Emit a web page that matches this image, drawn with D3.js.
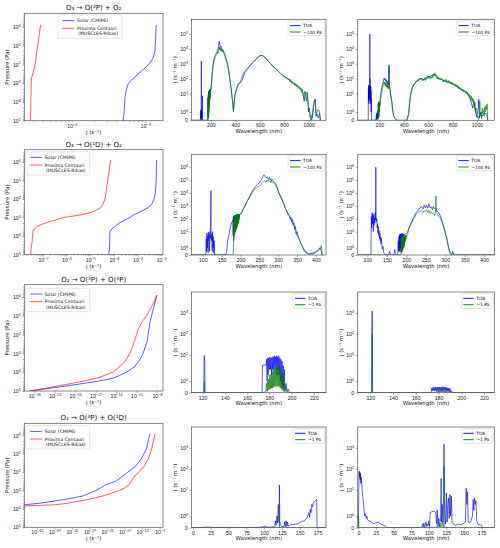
<!DOCTYPE html>
<html>
<head>
<meta charset="utf-8">
<script src="https://cdn.jsdelivr.net/npm/d3@7"></script>
<style>
  body { margin: 0; background: #fff; }
  svg { font-family: "DejaVu Sans", sans-serif; }
</style>
</head>
<body>
<div id="wrapper"></div>
<script>
// ---------- profile data: pressure (Pa) and photolysis rates j (s^-1) ----------
const pressure = [1e5, 7e4, 5e4, 3e4, 2e4, 1e4, 7e3, 6e3, 5e3, 3e3, 2e3, 1e3, 700, 500, 300, 200, 100, 50, 20, 10, 5, 2, 1, 0.8];

const o3pSolarJ = [4.98e-4, 5.02e-4, 5.07e-4, 5.15e-4, 5.19e-4, 5.25e-4, 5.27e-4, 5.28e-4, 5.31e-4, 5.43e-4, 5.56e-4, 5.89e-4, 6.46e-4, 7.1e-4, 8.07e-4, 9.2e-4, 1.12e-3, 1.26e-3, 1.35e-3, 1.36e-3, 1.38e-3, 1.39e-3, 1.40e-3, 1.41e-3];
const o3pProxJ  = [2.75e-5, 2.75e-5, 2.75e-5, 2.76e-5, 2.77e-5, 2.77e-5, 2.78e-5, 2.78e-5, 2.78e-5, 2.79e-5, 2.79e-5, 2.80e-5, 2.81e-5, 2.84e-5, 2.95e-5, 3.03e-5, 3.15e-5, 3.25e-5, 3.33e-5, 3.43e-5, 3.53e-5, 3.63e-5, 3.72e-5, 3.76e-5];

const o1dSolarJ = [6.03e-5, 6.2e-5, 6.46e-5, 6.5e-5, 6.61e-5, 6.67e-5, 6.7e-5, 6.76e-5, 7.2e-5, 1.10e-4, 1.70e-4, 4.79e-4, 7.24e-4, 1.29e-3, 2.69e-3, 3.89e-3, 5.01e-3, 5.56e-3, 5.96e-3, 6.10e-3, 6.17e-3, 6.24e-3, 6.31e-3, 6.34e-3];
const o1dProxJ  = [3.05e-8, 3.1e-8, 3.16e-8, 3.3e-8, 3.47e-8, 3.59e-8, 3.7e-8, 3.8e-8, 3.89e-8, 5.62e-8, 1.26e-7, 7.94e-7, 4.7e-6, 1.26e-5, 2.75e-5, 3.39e-5, 4.17e-5, 4.57e-5, 5.01e-5, 5.5e-5, 5.89e-5, 6.61e-5, 7.08e-5, 7.41e-5];

const o2pSolarJ = [2.3e-27, 3.2e-24, 2.1e-21, 2.5e-17, 5.6e-15, 3.3e-13, 1.5e-12, 2.8e-12, 5.6e-12, 1.6e-11, 3.5e-11, 8.7e-11, 1.3e-10, 1.7e-10, 2.7e-10, 3.9e-10, 5.0e-10, 6.6e-10, 1.0e-9, 1.6e-9, 2.6e-9, 5.0e-9, 7.9e-9, 8.9e-9];
const o2pProxJ  = [2.3e-27, 4.8e-25, 1e-22, 1.4e-19, 2.2e-17, 3.4e-15, 1.2e-14, 2.0e-14, 3.7e-14, 1.5e-13, 3.5e-13, 1.0e-12, 1.6e-12, 2.3e-12, 3.7e-12, 5.4e-12, 1.0e-11, 1.8e-11, 7.4e-11, 2.5e-10, 8.9e-10, 3.2e-9, 7.9e-9, 9.5e-9];

const o2dSolarJ = [1e-70, 1e-65, 1e-62, 1e-60, 1e-58, 1e-54, 3e-49, 1.3e-46, 3e-42, 1.6e-34, 1e-29, 6.3e-26, 2e-24, 2.6e-23, 4.6e-20, 7.9e-19, 7.9e-17, 1e-14, 5e-13, 3.2e-12, 2e-11, 5e-11, 1.26e-10, 1.6e-10];
const o2dProxJ  = [1e-70, 1e-65, 1e-62, 1e-60, 1e-58, 1e-54, 1e-47, 1e-37, 2.8e-34, 8.3e-28, 4.7e-24, 3.8e-19, 1.3e-17, 1.4e-16, 9.5e-16, 3e-15, 1e-13, 2.9e-12, 5e-11, 1.8e-10, 5.9e-10, 1.6e-9, 3.5e-9, 4.5e-9];

// ---------- spectral data: [wavelength nm, j per wavelength (s^-1 m^-1)] ----------
const o3pSolarToa = [[40,0],[114,0],[115,0.6],[116,0.1],[117,1.2],[118,0.3],[119,1.3],[120,0.4],[121,1],[121.6,1500],[122,0.8],[123,0.2],[124,1],[125,0.1],[127,0],[129,0],[130,7],[131,0],[170,0],[174,0],[175,0.5],[176,5],[177,0.5],[178,8],[179,1],[180,10],[181,2],[182,12],[183,2],[184,14],[185,3],[186,15],[187,4],[188,16],[189,5],[190,17],[191,6],[192,18],[193,8],[194,18],[195,10],[196,19],[197,12],[198,20],[200,20],[205,60],[210,200],[215,500],[220,1100],[225,2000],[230,2900],[235,3500],[240,4500],[247,5400],[252,8000],[258,10000],[262,15000],[266,28000],[269,33000],[272,20000],[276,16000],[280,13000],[284,15000],[288,9000],[292,10000],[296,8000],[300,8500],[304,7000],[308,6000],[313,4800],[318,3200],[324,2200],[330,1500],[337,1050],[343,500],[348,300],[352,160],[356,85],[360,50],[365,25],[370,10],[375,4],[380,2],[384,1.2],[388,1.5],[392,3],[396,6],[400,10],[420,40],[450,60],[480,290],[520,700],[560,1700],[600,3400],[620,3700],[645,2600],[690,1000],[730,480],[770,230],[800,140],[840,85],[870,48],[900,38],[930,22],[950,18],[965,3],[975,12],[990,10],[1000,1],[1008,1.5],[1015,0.3],[1025,0],[1035,0.8],[1045,2],[1055,4],[1062,0.5],[1070,0.7],[1080,0.3],[1090,0.8],[1098,0]];
const o3pSolarMid = [[40,0],[176,0],[177,1],[178,0.2],[179,3],[180,0.3],[181,5],[182,0.6],[183,7],[184,1],[185,9],[186,1.5],[187,11],[188,2],[189,12],[190,3],[191,13],[192,4],[193,15],[194,5],[195,16],[196,8],[197,18],[198,12],[200,18],[205,45],[210,150],[215,400],[220,900],[225,1500],[230,2200],[235,2600],[240,3200],[245,3800],[250,4200],[255,6500],[259,5000],[263,9000],[267,14000],[270,9000],[273,13000],[276,8000],[280,11000],[283,7000],[287,10000],[291,6500],[295,8000],[299,6000],[303,7000],[307,4500],[312,4000],[317,2800],[322,2000],[328,1400],[334,900],[340,550],[345,320],[350,170],[355,90],[360,50],[366,22],[372,8],[378,3],[382,1.5],[385,1],[388,1.8],[392,4],[397,8],[402,12],[410,18],[418,30],[425,40],[432,48],[440,60],[448,90],[456,140],[464,200],[472,260],[480,310],[490,420],[500,520],[510,650],[520,760],[530,950],[540,1150],[550,1400],[560,1700],[570,2100],[580,2600],[590,3000],[600,3400],[610,3600],[618,3800],[625,3300],[632,3100],[640,2800],[650,2300],[660,1900],[670,1500],[680,1200],[690,1000],[700,800],[710,650],[720,520],[730,450],[740,400],[750,330],[760,260],[768,230],[776,190],[784,170],[792,150],[800,140],[808,120],[815,130],[822,100],[830,110],[836,80],[842,95],[848,60],[855,85],[862,50],[868,65],[875,42],[882,55],[890,32],[896,45],[902,28],[908,38],[915,22],[922,30],[928,18],[935,25],[942,12],[948,20],[955,8],[962,4],[968,14],[975,10],[982,3],[988,12],[994,5],[1000,1.2],[1006,1.5],[1012,0.5],[1018,0.1],[1024,0.6],[1030,0.3],[1036,1.5],[1042,2.5],[1048,3.5],[1053,4],[1058,1.5],[1063,0.5],[1068,1.0],[1074,1.3],[1080,1.1],[1086,1.2],[1092,0.8],[1096,0]];

const o3pProxToa = [[20,0],[108,0],[110,20],[111,3],[112,35],[113,5],[114,30],[115,2],[116,25],[117,40],[118,4],[119,30],[120,8],[121,35],[121.6,100000],[122,40],[123,100],[124,10],[125,35],[126,3],[127,25],[128,5],[129,30],[130,2],[131,15],[132,1],[134,5],[136,0],[170,0],[175,0.6],[176,0.1],[178,0.9],[180,0.2],[182,0.8],[184,0.3],[186,1.2],[188,0.5],[190,2],[192,0.8],[194,2.5],[196,1],[198,2.5],[200,1.5],[205,3],[210,8],[215,14],[220,25],[225,40],[230,60],[235,90],[240,110],[244,80],[248,95],[252,70],[256,85],[260,55],[264,70],[268,45],[272,60],[276,40],[279,850],[281,35],[285,25],[290,12],[295,7],[300,4],[305,2],[310,1.2],[315,0.8],[320,0.5],[330,0.2],[340,0],[425,0],[440,0.8],[452,5],[470,25],[500,60],[530,100],[560,90],[600,130],[630,160],[655,220],[680,110],[720,80],[760,60],[800,45],[850,25],[900,14],[930,8],[950,3],[965,1.5],[975,3],[990,0.8],[1000,0.4],[1010,1.5],[1015,4],[1020,0.3],[1030,1],[1040,0.5],[1060,0.8],[1080,0.8],[1088,0]];
const o3pProxMid = [[20,0],[185,0],[187,0.3],[188,0.1],[190,1],[191,0.2],[193,1.5],[194,0.3],[196,2],[197,0.5],[199,3],[200,1],[203,2.5],[205,1.7],[210,4],[215,8],[219,11],[223,18],[227,25],[232,40],[236,55],[240,45],[243,60],[246,35],[249,55],[252,30],[255,50],[258,28],[261,45],[264,25],[267,40],[270,22],[273,35],[276,20],[278,60],[279,700],[280,40],[283,25],[286,18],[290,10],[295,5],[300,3],[305,1.5],[310,1],[315,0.6],[320,0.4],[330,0.2],[340,0.05],[350,0],[420,0],[430,0.2],[440,0.8],[447,2],[452,5],[458,12],[464,18],[470,25],[476,32],[482,45],[488,40],[492,52],[498,55],[503,70],[508,60],[513,85],[518,70],[523,95],[528,80],[533,105],[538,90],[543,110],[548,85],[553,100],[558,70],[563,95],[568,80],[573,115],[578,75],[583,105],[588,90],[593,140],[598,100],[603,150],[608,110],[613,135],[618,95],[623,125],[628,110],[633,170],[638,120],[643,200],[648,140],[653,230],[658,150],[663,180],[668,110],[673,140],[678,95],[683,120],[688,90],[693,110],[698,80],[703,105],[708,85],[713,100],[718,65],[723,80],[728,60],[733,75],[738,90],[743,60],[748,85],[753,55],[758,70],[763,50],[768,75],[773,55],[778,65],[783,45],[788,60],[793,40],[798,55],[803,42],[808,48],[813,35],[818,45],[823,30],[828,40],[833,28],[838,38],[843,24],[848,30],[853,20],[858,26],[863,18],[868,22],[873,16],[878,20],[883,14],[888,18],[893,12],[898,16],[903,13],[908,10],[913,14],[918,9],[923,12],[928,7],[933,10],[938,6],[943,8],[948,4],[953,7],[958,3],[963,5],[968,2.5],[973,4],[978,1.5],[983,2.5],[988,1],[993,1.5],[998,0.6],[1003,0.3],[1008,0.5],[1013,0.1],[1018,0.4],[1023,3],[1028,0.5],[1033,1],[1038,0.2],[1043,1.5],[1048,0.8],[1053,1.2],[1058,0.5],[1063,1.6],[1068,1],[1073,1.8],[1078,1.3],[1083,2],[1088,0]];

const o1dSolarToa = [[70,0],[108,0],[109,3],[110,0.5],[111,8],[112,1],[113,5],[114,0.3],[115,9],[116,2],[117,6],[118,0.5],[119,10],[120,3],[121,300],[121.6,15000],[122,8],[123,2],[124,7],[125,0.5],[126,10],[127,1],[128,4],[129,0.3],[130,2],[132,0],[160,0],[163,0.3],[166,2],[169,5],[172,15],[175,35],[178,60],[180,80],[180.5,5],[181,120],[181.5,8],[182,150],[182.5,10],[183,160],[183.5,12],[184,170],[184.5,15],[185,180],[185.5,18],[186,190],[186.5,20],[187,180],[187.5,25],[188,190],[188.5,30],[189,200],[189.5,40],[190,200],[190.5,50],[191,210],[191.5,70],[192,210],[192.5,100],[193,220],[195,220],[198,225],[200,230],[204,350],[208,650],[213,1200],[218,2500],[222,4000],[226,7000],[231,13000],[236,22000],[240,32000],[245,45000],[249,57000],[254,90000],[258,140000],[262,250000],[265,200000],[268,150000],[271,180000],[274,130000],[277,160000],[280,110000],[284,120000],[288,75000],[293,55000],[298,25000],[302,10000],[306,6000],[311,2900],[315,1500],[319,650],[323,400],[328,200],[330,180],[332,90],[334,140],[336,60],[338,90],[340,35],[342,50],[344,15],[346,25],[348,7],[350,10],[355,3],[364,1.2],[372,0.5],[381,0.2],[395,0.3],[404,0.5],[412,1],[417,0]];
const o1dSolarMid = [[70,0],[181,0],[182,60],[182.5,2],[183,100],[183.5,4],[184,130],[184.5,6],[185,150],[185.5,8],[186,170],[186.5,10],[187,180],[187.5,12],[188,190],[188.5,15],[189,200],[189.5,18],[190,200],[190.5,20],[191,210],[191.5,25],[192,210],[192.5,30],[193,215],[193.5,40],[194,220],[194.5,50],[195,220],[195.5,70],[196,225],[196.5,90],[197,225],[197.5,120],[198,225],[200,230],[204,330],[208,600],[213,1100],[218,2300],[222,3600],[226,6000],[231,11000],[236,17000],[240,22000],[245,28000],[249,32000],[254,45000],[258,60000],[262,75000],[265,90000],[268,70000],[271,110000],[274,80000],[277,130000],[280,60000],[282,100000],[284,70000],[288,60000],[293,45000],[298,22000],[302,9500],[306,5500],[311,2800],[315,1400],[319,650],[323,380],[328,190],[333,100],[337,55],[342,25],[346,10],[350,5],[355,3],[360,1.6],[364,1.2],[368,0.7],[372,0.4],[376,0.2],[381,0.1],[386,0.1],[390,0.15],[395,0.2],[400,0.4],[404,0.5],[408,0.8],[412,1.1],[415,1.3],[417,0]];

const o1dProxToa = [[75,0],[109,0],[110,150],[111,20],[112,300],[113,40],[114,250],[115,10],[116,200],[117,30],[118,120],[119,50],[120,300],[121,80],[121.6,1000000],[122,250],[123,60],[124,100],[125,20],[126,40],[127,8],[128,25],[129,5],[130,12],[131,3],[132,8],[133,2],[134,4],[135,1.5],[136,3],[138,0.8],[140,1.2],[142,0.3],[145,0.1],[150,0],[155,0],[157,0.5],[159,0.1],[162,0],[168,0],[170,0.8],[172,0.2],[174,0],[178,0],[179,2],[180,0.5],[181,4],[181.5,1],[182,5],[182.5,0.5],[183,6],[183.5,1],[184,6],[184.5,0.5],[185,6],[185.5,1],[186,7],[186.5,1],[187,6],[187.5,1],[188,7],[188.5,1.5],[189,6],[189.5,1],[190,7],[190.5,2],[191,6],[191.5,2],[192,7],[192.5,3],[193,6],[194,6],[196,6],[198,6.5],[200,7],[203,9],[206,18],[210,35],[214,60],[218,120],[222,200],[226,320],[231,480],[235,700],[239,900],[243,600],[246,1200],[249,700],[252,1100],[255,650],[258,1500],[261,700],[264,800],[267,500],[269,900],[272,600],[275,700],[278,400],[281,350],[284,250],[287,180],[290,100],[293,55],[296,25],[299,12],[302,5],[305,2.5],[308,1.2],[311,0.6],[313,0.2],[316,0],[319,0.5],[321,0.1],[325,0],[440,0]];
const o1dProxMid = [[75,0],[186,0],[187,3],[187.5,0.3],[188,4],[188.5,0.5],[189,5],[189.5,0.5],[190,5],[190.5,0.8],[191,5],[191.5,0.8],[192,5],[192.5,1],[193,5],[193.5,1],[194,5],[194.5,1.2],[195,5],[195.5,1.5],[196,5],[196.5,1.8],[197,5],[197.5,2],[198,5],[198.5,2.5],[199,5],[199.5,3],[200,5],[201,4],[203,6],[206,14],[210,28],[214,50],[218,90],[222,150],[226,230],[231,320],[235,380],[239,450],[243,300],[246,420],[249,350],[252,500],[255,300],[258,450],[261,250],[264,350],[267,250],[270,280],[273,180],[275,300],[276,6000],[277,300],[279,250],[281,200],[284,150],[287,120],[290,70],[293,40],[296,20],[299,10],[302,4],[305,2],[308,1],[311,0.5],[313,0.2],[316,0],[319,0.4],[321,0.1],[325,0],[440,0]];

const o2pSolarToa = [[100,0],[121,0],[121.4,9],[121.8,9],[122.2,0],[173.5,0],[173.8,3.2],[177,3.2],[177.5,6],[178,1],[178.5,7],[179,1.5],[179.5,7],[180,2],[180.5,8],[181,2],[181.5,7],[182,1.5],[182.5,8],[183,2],[183.5,8],[184,2],[184.5,9],[185,2.5],[185.5,8],[186,2],[186.5,9],[187,1.5],[187.5,8],[188,2],[188.5,9],[189,1.5],[189.5,7],[190,1],[190.5,6],[191,0.8],[191.5,5],[192,0.5],[192.5,3],[193,0.3],[193.5,2],[194,0.2],[195,0.8],[196,0.1],[197,0.3],[198,0],[232,0]];
const o2pSolarMid = [[100,0],[121.4,0],[121.6,1],[121.8,0],[176,0],[177,0.2],[177.5,0.8],[178,0.1],[178.5,1],[179,0.2],[179.5,1.2],[180,0.3],[180.5,1.5],[181,0.3],[181.5,1.6],[182,0.4],[182.5,1.8],[183,0.4],[183.5,2],[184,0.5],[184.5,2.2],[185,0.5],[185.5,2.5],[186,0.6],[186.5,2.5],[187,0.5],[187.5,2.8],[188,0.6],[188.5,2.5],[189,0.5],[189.5,2.2],[190,0.4],[190.5,1.8],[191,0.3],[191.5,1.5],[192,0.2],[192.5,1.2],[193,0.1],[193.5,0.8],[194,0.1],[195,0.5],[196,0],[232,0]];

const o2pProxToa = [[100,0],[121.3,0],[121.5,1200],[121.9,1200],[122.1,0],[173.5,0],[174,0.4],[174.5,0.15],[175,0.45],[175.5,0.2],[176,0.45],[176.5,0.15],[177,0.5],[177.5,0.2],[178,0.45],[178.5,0.15],[179,0.5],[179.5,0.2],[180,0.45],[180.5,0.15],[181,0.5],[181.5,0.2],[182,0.45],[182.5,0.15],[183,0.5],[183.5,0.2],[184,0.5],[184.5,0.15],[185,0.5],[185.5,0.2],[186,0.45],[186.5,0.15],[187,0.45],[187.5,0.15],[188,0.4],[188.5,0.1],[189,0.4],[189.5,0.1],[190,0.35],[190.5,0.05],[191,0.2],[192,0.05],[193,0],[232,0]];
const o2pProxMid = [[100,0],[121.4,0],[121.6,100],[121.8,0],[176,0],[178,0.05],[178.5,0.15],[179,0.02],[179.5,0.15],[180,0.03],[180.5,0.18],[181,0.03],[181.5,0.2],[182,0.05],[182.5,0.2],[183,0.05],[183.5,0.18],[184,0.04],[184.5,0.2],[185,0.05],[185.5,0.15],[186,0.03],[186.5,0.15],[187,0.02],[187.5,0.12],[188,0.02],[189,0.08],[190,0.02],[191,0.05],[192,0],[232,0]];

const o2dSolarToa = [[-2,0],[5,0],[10,0.02],[20,0.05],[30,0.02],[40,0.03],[60,0.01],[80,0.02],[95,0.03],[100,0.1],[101,0.15],[102,0.05],[110,0.05],[115,0.1],[116,0.6],[117,0.2],[118,1],[119,0.4],[120,2],[121,0.5],[121.6,17],[122,0.6],[123,0.2],[125,0.1],[128,0.1],[129,0.5],[130,0.1],[131,0.6],[132,0.1],[133,0.5],[134,0.15],[136,0.2],[138,0.3],[140,0.25],[144,0.3],[148,0.35],[150,0.45],[152,0.5],[154,0.6],[156,0.55],[158,0.7],[160,0.8],[162,1.1],[163,1.3],[164,0.9],[165,1.6],[166,1.3],[167,2.0],[168,1.8],[169,2.2],[170,2.6],[171,2.8],[172,3.0],[173,3.2],[174,3.4],[174.5,0],[187,0]];
const o2dSolarMid = [[-2,0],[121.4,0],[121.6,1],[121.8,0],[187,0]];

const o2dProxToa = [[-1,0],[0,0],[0.5,10],[1,80],[1.5,40],[2,70],[2.5,30],[3,60],[3.5,20],[4,40],[5,15],[6,5],[7,3],[8,1.5],[9,1],[10,1.2],[11,0.8],[12,1],[13,0.7],[14,0.6],[16,0.6],[18,0.5],[20,0.4],[22,0.35],[24,0.4],[26,0.45],[28,0.5],[30,0.35],[32,0.3],[34,0.25],[36,0.2],[38,0.15],[40,0.05],[41,0],[90,0],[91,0.3],[92,0.05],[93,0.4],[94,0.05],[95,0.2],[96,0.5],[97,0.1],[98,0.3],[99,0.15],[100,0.6],[101,0.1],[102,1.3],[105,1.4],[108,1.4],[110,1.3],[111,0.3],[112,1.5],[113,0.2],[114,0.8],[115,0.1],[116,0.5],[117,1],[117.5,35],[118,0.5],[119,2],[120,0.4],[121,5],[121.6,1500],[122,30],[123,1],[124,0.3],[125,7],[126,0.5],[127,2],[128,4],[129,0.8],[130,6],[131,1],[132,5],[133,0.5],[135,0.3],[138,0.2],[142,0.3],[146,0.25],[150,0.4],[152,0.5],[153,12],[154,2],[155,8],[156,0.5],[158,0.4],[160,0.6],[162,1],[163,3.5],[164,1.5],[165,4],[166,2],[167,3],[168,0.6],[170,0.3],[173,0.25],[175,0.2],[175.5,0],[193,0]];
const o2dProxMid = [[-1,0],[0,0],[0.3,1],[0.6,0],[110,0],[112,0.2],[113,0],[116,0.4],[117,0],[119,0.5],[120,0],[121.4,0],[121.6,140],[121.8,0],[193,0]];

// ---------- tick values ----------
const pressureTicks = [1, 10, 100, 1e3, 1e4, 1e5];
const o3pJTicks = [1e-4, 1e-3];
const o1dJTicks = [1e-7, 1e-6, 1e-5, 1e-4, 1e-3, 1e-2];
const o2pJTicks = [1e-26, 1e-23, 1e-20, 1e-17, 1e-14, 1e-11, 1e-8];
const o2dJTicks = [1e-42, 1e-37, 1e-32, 1e-27, 1e-22, 1e-17, 1e-12, 1e-7];
const wlTicksR1 = [200, 400, 600, 800, 1000];
const wlTicksR2 = [100, 150, 200, 250, 300, 350, 400];
const wlTicksR3 = [120, 140, 160, 180, 200, 220];
const wlTicksR4 = [0, 25, 50, 75, 100, 125, 150, 175];
const specTicks6 = [0, 1, 10, 100, 1e3, 1e4, 1e5];
const specTicks7 = [0, 1, 10, 100, 1e3, 1e4, 1e5, 1e6];
const specTicks4 = [0, 1, 10, 100, 1e3];

const titles = ["O₃ → O(³P) + O₂", "O₃ → O(¹D) + O₂", "O₂ → O(³P) + O(³P)", "O₂ → O(³P) + O(¹D)"];

// ---------- helpers ----------
const svg = d3.select("#wrapper").append("svg").attr("width", 500).attr("height", 548);
const defs = svg.append("defs");
const frameColor = "#555";
let clipCount = 0;

function clipFor(l, r, t, b) {
	const id = "clip" + (clipCount++);
	defs.append("clipPath").attr("id", id).append("rect")
		.attr("x", l).attr("y", t).attr("width", r - l).attr("height", b - t);
	return "url(#" + id + ")";
}

function styleAxis(g, fs) {
	g.select(".domain").remove();
	g.selectAll(".tick line").attr("stroke", frameColor).attr("stroke-width", 0.5);
	g.selectAll(".tick text").attr("fill", "#222").style("font-size", fs + "px");
}

// turn tick labels into "10" with a raised exponent, like mathtext
function powerLabels(g, values) {
	g.selectAll(".tick text").each(function(d, i) {
		const v = values ? values[i] : d;
		const t = d3.select(this).text(null);
		if (v === 0) { t.text("0"); return; }
		const e = Math.round(Math.log10(v));
		t.append("tspan").text("10");
		t.append("tspan").attr("dy", "-0.55em").style("font-size", "72%")
			.text(String(e).replace("-", "−"));
	});
}

function frame(l, r, t, b) {
	svg.append("rect").attr("x", l).attr("y", t).attr("width", r - l).attr("height", b - t)
		.attr("fill", "none").attr("stroke", frameColor).attr("stroke-width", 0.7);
}

function logMinor(domain) {
	const lo = Math.min(...domain), hi = Math.max(...domain);
	const out = [];
	for (let k = Math.floor(Math.log10(lo)); k <= Math.ceil(Math.log10(hi)); k++) {
		for (let m = 2; m <= 9; m++) {
			const v = m * Math.pow(10, k);
			if (v >= lo && v <= hi) out.push(v);
		}
	}
	return out;
}

// matplotlib-like symlog transform (linthresh 2, linscale 1)
const LINTHRESH = 2, LINSCALE = 1 / (1 - 1 / 10);
function symlog(v) {
	return v <= LINTHRESH ? v / LINTHRESH * LINSCALE : LINSCALE + Math.log10(v / LINTHRESH);
}

// ---------- profile panel (left column) ----------
function profilePanel(p) {
	const L = 24.3, R = 163;
	const x = d3.scaleLog().domain(p.xDomain).range([L, R]);
	const y = d3.scaleLog().domain([1e5, p.yTop]).range([p.bottom, p.top]);
	const clip = clipFor(L, R, p.top, p.bottom);

	const line = d3.line().x(d => x(d[1])).y(d => y(d[0]));
	const series = [[p.solar, "#0000ff"], [p.prox, "#ff0000"]];
	series.forEach(([vals, col]) => {
		svg.append("path").datum(d3.zip(pressure, vals))
			.attr("clip-path", clip).attr("d", line)
			.attr("fill", "none").attr("stroke", col).attr("stroke-opacity", 0.72)
			.attr("stroke-width", 0.9);
	});

	const gx = svg.append("g").attr("transform", `translate(0,${p.bottom})`)
		.call(d3.axisBottom(x).tickValues(p.xTicks).tickSize(2).tickPadding(1.5));
	styleAxis(gx, 5.2);
	powerLabels(gx);
	if (p.minorX) {
		svg.append("g").attr("transform", `translate(0,${p.bottom})`)
			.call(d3.axisBottom(x).tickValues(logMinor(p.xDomain)).tickFormat("").tickSize(1.2))
			.call(g => styleAxis(g, 5));
	}
	const gy = svg.append("g").attr("transform", `translate(${L},0)`)
		.call(d3.axisLeft(y).tickValues(pressureTicks).tickSize(2).tickPadding(1.5));
	styleAxis(gy, 5.2);
	powerLabels(gy);
	svg.append("g").attr("transform", `translate(${L},0)`)
		.call(d3.axisLeft(y).tickValues(logMinor([1e5, p.yTop])).tickFormat("").tickSize(1.2))
		.call(g => styleAxis(g, 5));
	frame(L, R, p.top, p.bottom);

	svg.append("text").attr("x", (L + R) / 2).attr("y", p.top - 3.2)
		.attr("text-anchor", "middle").style("font-size", "7px").attr("fill", "#111").text(p.title);
	svg.append("text").attr("x", (L + R) / 2).attr("y", p.bottom + 13)
		.attr("text-anchor", "middle").style("font-size", "5.4px").attr("fill", "#111").text("j (s⁻¹)");
	svg.append("text").attr("transform", `translate(${L - 15.5},${(p.top + p.bottom) / 2}) rotate(-90)`)
		.attr("text-anchor", "middle").style("font-size", "5.4px").attr("fill", "#111").text("Pressure (Pa)");

	// legend
	const lx = p.legend[0], ly = p.legend[1], lw = 64, lh = 23.3;
	svg.append("rect").attr("x", lx).attr("y", ly).attr("width", lw).attr("height", lh)
		.attr("rx", 1.2).attr("fill", "#fff").attr("fill-opacity", 0.85)
		.attr("stroke", "#ccc").attr("stroke-width", 0.5);
	const rows = [["Solar (CMIP6)", "#0000ff", 5.7], ["Proxima Centauri", "#ff0000", 13.3]];
	rows.forEach(([t, col, dy]) => {
		svg.append("line").attr("x1", lx + 4.5).attr("x2", lx + 16.3)
			.attr("y1", ly + dy).attr("y2", ly + dy)
			.attr("stroke", col).attr("stroke-opacity", 0.72).attr("stroke-width", 0.9);
		svg.append("text").attr("x", lx + 19).attr("y", ly + dy + 1.6)
			.style("font-size", "4.6px").attr("fill", "#111").text(t);
	});
	svg.append("text").attr("x", lx + 20.3).attr("y", ly + 20.2)
		.style("font-size", "4.6px").attr("fill", "#111").text("(MUSCLES-Ribas)");
}

// ---------- spectrum panel (middle and right columns) ----------
function spectrumPanel(p) {
	const x = d3.scaleLinear().domain(p.xDomain).range([p.left, p.right]);
	const y = d3.scaleLinear().domain([0, symlog(p.yMax)]).range([p.bottom, p.top]);
	const clip = clipFor(p.left, p.right, p.top, p.bottom);
	const line = d3.line().x(d => x(d[0])).y(d => y(symlog(d[1])));

	[[p.toa, "#0000ff"], [p.mid, "#008000"]].forEach(([vals, col]) => {
		svg.append("path").datum(vals).attr("clip-path", clip).attr("d", line)
			.attr("fill", "none").attr("stroke", col).attr("stroke-opacity", 0.8)
			.attr("stroke-width", 0.8).attr("stroke-linejoin", "round");
	});

	const gx = svg.append("g").attr("transform", `translate(0,${p.bottom})`)
		.call(d3.axisBottom(x).tickValues(p.xTicks).tickFormat(d3.format("d")).tickSize(2).tickPadding(1.5));
	styleAxis(gx, 5.2);
	const gy = svg.append("g").attr("transform", `translate(${p.left},0)`)
		.call(d3.axisLeft(y).tickValues(p.yTicks.map(symlog)).tickSize(2).tickPadding(1.5));
	styleAxis(gy, 5.2);
	powerLabels(gy, p.yTicks);
	frame(p.left, p.right, p.top, p.bottom);

	svg.append("text").attr("x", (p.left + p.right) / 2).attr("y", p.bottom + 12.5)
		.attr("text-anchor", "middle").style("font-size", "5.4px").attr("fill", "#111").text("Wavelength (nm)");
	svg.append("text").attr("transform", `translate(${p.left - 15},${(p.top + p.bottom) / 2}) rotate(-90)`)
		.attr("text-anchor", "middle").style("font-size", "5.4px").attr("fill", "#111").text("j (s⁻¹ m⁻¹)");

	// legend
	const lw = p.legendW, lh = 15, lx = p.right - lw - 1.5, ly = p.top + 1.5;
	svg.append("rect").attr("x", lx).attr("y", ly).attr("width", lw).attr("height", lh)
		.attr("rx", 1.2).attr("fill", "#fff").attr("fill-opacity", 0.85)
		.attr("stroke", "#ccc").attr("stroke-width", 0.5);
	[["TOA", "#0000ff", 4.8], [p.midLabel, "#008000", 11.2]].forEach(([t, col, dy]) => {
		svg.append("line").attr("x1", lx + 2).attr("x2", lx + 12.5)
			.attr("y1", ly + dy).attr("y2", ly + dy)
			.attr("stroke", col).attr("stroke-width", 0.9);
		svg.append("text").attr("x", lx + 15).attr("y", ly + dy + 1.6)
			.style("font-size", "4.4px").attr("fill", "#111").text(t);
	});
}

// ---------- layout ----------
const rows = [
	{top: 13.3, bottom: 120.7, yTop: 0.19, specTop: 19.3, specBottom: 120.3},
	{top: 149.7, bottom: 254.5, yTop: 0.22, specTop: 154.3, specBottom: 255},
	{top: 284.7, bottom: 391, yTop: 0.22, specTop: 292, specBottom: 392.7},
	{top: 423.3, bottom: 527.3, yTop: 0.22, specTop: 427, specBottom: 527.7}
];

profilePanel({...rows[0], title: titles[0], xDomain: [Math.pow(10, -4.647), Math.pow(10, -2.76)], xTicks: o3pJTicks, solar: o3pSolarJ, prox: o3pProxJ, legend: [58, 15], minorX: true});
profilePanel({...rows[1], title: titles[1], xDomain: [Math.pow(10, -7.79), Math.pow(10, -1.925)], xTicks: o1dJTicks, solar: o1dSolarJ, prox: o1dProxJ, legend: [25.7, 151.7], minorX: true});
profilePanel({...rows[2], title: titles[2], xDomain: [Math.pow(10, -27.46), Math.pow(10, -7.12)], xTicks: o2pJTicks, solar: o2pSolarJ, prox: o2pProxJ, legend: [25.7, 288.3], minorX: false});
profilePanel({...rows[3], title: titles[3], xDomain: [Math.pow(10, -45.6), Math.pow(10, -6.06)], xTicks: o2dJTicks, solar: o2dSolarJ, prox: o2dProxJ, legend: [25.7, 425.7], minorX: false});

const MID = [191.5, 326], RIGHT = [357.7, 494.3];
const specPanels = [
	{row: 0, col: MID, xDomain: [41, 1143], xTicks: wlTicksR1, yMax: 1e6, yTicks: specTicks6, toa: o3pSolarToa, mid: o3pSolarMid, midLabel: "∼100 Pa", legendW: 36.5},
	{row: 0, col: RIGHT, xDomain: [22, 1142], xTicks: wlTicksR1, yMax: 1e6, yTicks: specTicks6, toa: o3pProxToa, mid: o3pProxMid, midLabel: "∼100 Pa", legendW: 36.5},
	{row: 1, col: MID, xDomain: [70, 427], xTicks: wlTicksR2, yMax: 1e7, yTicks: specTicks7, toa: o1dSolarToa, mid: o1dSolarMid, midLabel: "∼100 Pa", legendW: 36.5},
	{row: 1, col: RIGHT, xDomain: [75, 426], xTicks: wlTicksR2, yMax: 1e7, yTicks: specTicks7, toa: o1dProxToa, mid: o1dProxMid, midLabel: "∼100 Pa", legendW: 36.5},
	{row: 2, col: MID, xDomain: [110, 231], xTicks: wlTicksR3, yMax: 1e4, yTicks: specTicks4, toa: o2pSolarToa, mid: o2pSolarMid, midLabel: "∼1 Pa", legendW: 31.5},
	{row: 2, col: RIGHT, xDomain: [109, 229], xTicks: wlTicksR3, yMax: 1e4, yTicks: specTicks4, toa: o2pProxToa, mid: o2pProxMid, midLabel: "∼1 Pa", legendW: 31.5},
	{row: 3, col: MID, xDomain: [-2, 187], xTicks: wlTicksR4, yMax: 1e4, yTicks: specTicks4, toa: o2dSolarToa, mid: o2dSolarMid, midLabel: "∼1 Pa", legendW: 31.5},
	{row: 3, col: RIGHT, xDomain: [-1, 193], xTicks: wlTicksR4, yMax: 1e4, yTicks: specTicks4, toa: o2dProxToa, mid: o2dProxMid, midLabel: "∼1 Pa", legendW: 31.5}
];
specPanels.forEach(p => spectrumPanel({
	...p, left: p.col[0], right: p.col[1],
	top: rows[p.row].specTop, bottom: rows[p.row].specBottom
}));
</script>
</body>
</html>
